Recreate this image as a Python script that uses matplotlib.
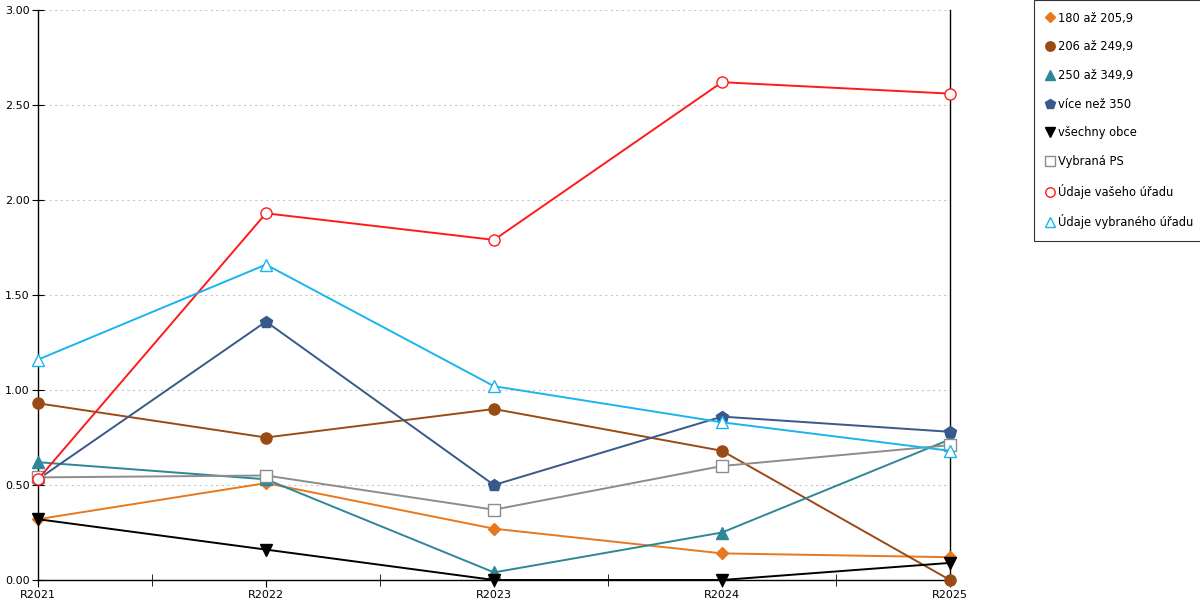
import matplotlib
matplotlib.use('Agg')
import matplotlib.pyplot as plt
from matplotlib.ticker import MultipleLocator, FormatStrFormatter

years = ['R2021', 'R2022', 'R2023', 'R2024', 'R2025']

s180 = [0.32, 0.51, 0.27, 0.14, 0.12]
s206 = [0.93, 0.75, 0.90, 0.68, 0.00]
s250 = [0.62, 0.53, 0.04, 0.25, 0.74]
s350 = [0.53, 1.36, 0.50, 0.86, 0.78]
vsechny = [0.32, 0.16, 0.00, 0.00, 0.09]
vybrana_ps = [0.54, 0.55, 0.37, 0.60, 0.71]
vas_urad = [0.53, 1.93, 1.79, 2.62, 2.56]
vybrany_urad = [1.16, 1.66, 1.02, 0.83, 0.68]

series = [
    ('180 až 205,9', s180, '#e8781e', 'D', 6, True),
    ('206 až 249,9', s206, '#9a4a14', 'o', 8, True),
    ('250 až 349,9', s250, '#2e8797', '^', 8, True),
    ('více než 350', s350, '#38598a', 'p', 9, True),
    ('všechny obce', vsechny, '#000000', 'v', 9, True),
    ('Vybraná PS', vybrana_ps, '#8c8c8c', 's', 8, False),
    ('Údaje vašeho úřadu', vas_urad, '#ff1a1a', 'o', 8, False),
    ('Údaje vybraného úřadu', vybrany_urad, '#1ab4ef', '^', 8, False),
]

plt.rcParams['font.family'] = ['DejaVu Sans']
fig = plt.figure(figsize=(12, 6), dpi=100)
ax = fig.add_axes([38 / 1200, 20 / 600, 912 / 1200, 570 / 600])

x = list(range(len(years)))
for name, vals, col, mk, ms, filled in series:
    ax.plot(x, vals, color=col, lw=1.4, marker=mk, markersize=ms,
            markerfacecolor=col if filled else 'white',
            markeredgecolor=col, markeredgewidth=1.0, label=name,
            clip_on=False, zorder=3)

ax.set_xlim(0, 4)
ax.set_ylim(0, 3)
ax.yaxis.set_major_locator(MultipleLocator(0.5))
ax.yaxis.set_major_formatter(FormatStrFormatter('%.2f'))
ax.set_xticks(x)
ax.set_xticklabels(years)
ax.set_xticks([0.5, 1.5, 2.5, 3.5], minor=True)
ax.tick_params(axis='x', which='major', direction='out', length=5, labelsize=8, pad=2)
ax.tick_params(axis='x', which='minor', direction='inout', length=8)
ax.tick_params(axis='y', direction='inout', length=8, labelsize=8, pad=2)
ax.grid(axis='y', color='#c8c8c8', linestyle=(0, (2, 3)), lw=0.8)
ax.spines['top'].set_visible(False)
for sp in ('left', 'bottom', 'right'):
    ax.spines[sp].set_color('black')
    ax.spines[sp].set_linewidth(1.0)

leg = fig.legend(loc='upper left', bbox_to_anchor=(1034 / 1200, 1.0), frameon=True,
                 fancybox=False, edgecolor='black', fontsize=8.3, handlelength=0.7,
                 handletextpad=0.4, labelspacing=1.36, borderpad=1.0, borderaxespad=0,
                 markerscale=0.85)
for h in leg.get_lines():
    h.set_linestyle('none')
leg.get_frame().set_linewidth(0.8)

fig.savefig('out.png', dpi=100)
